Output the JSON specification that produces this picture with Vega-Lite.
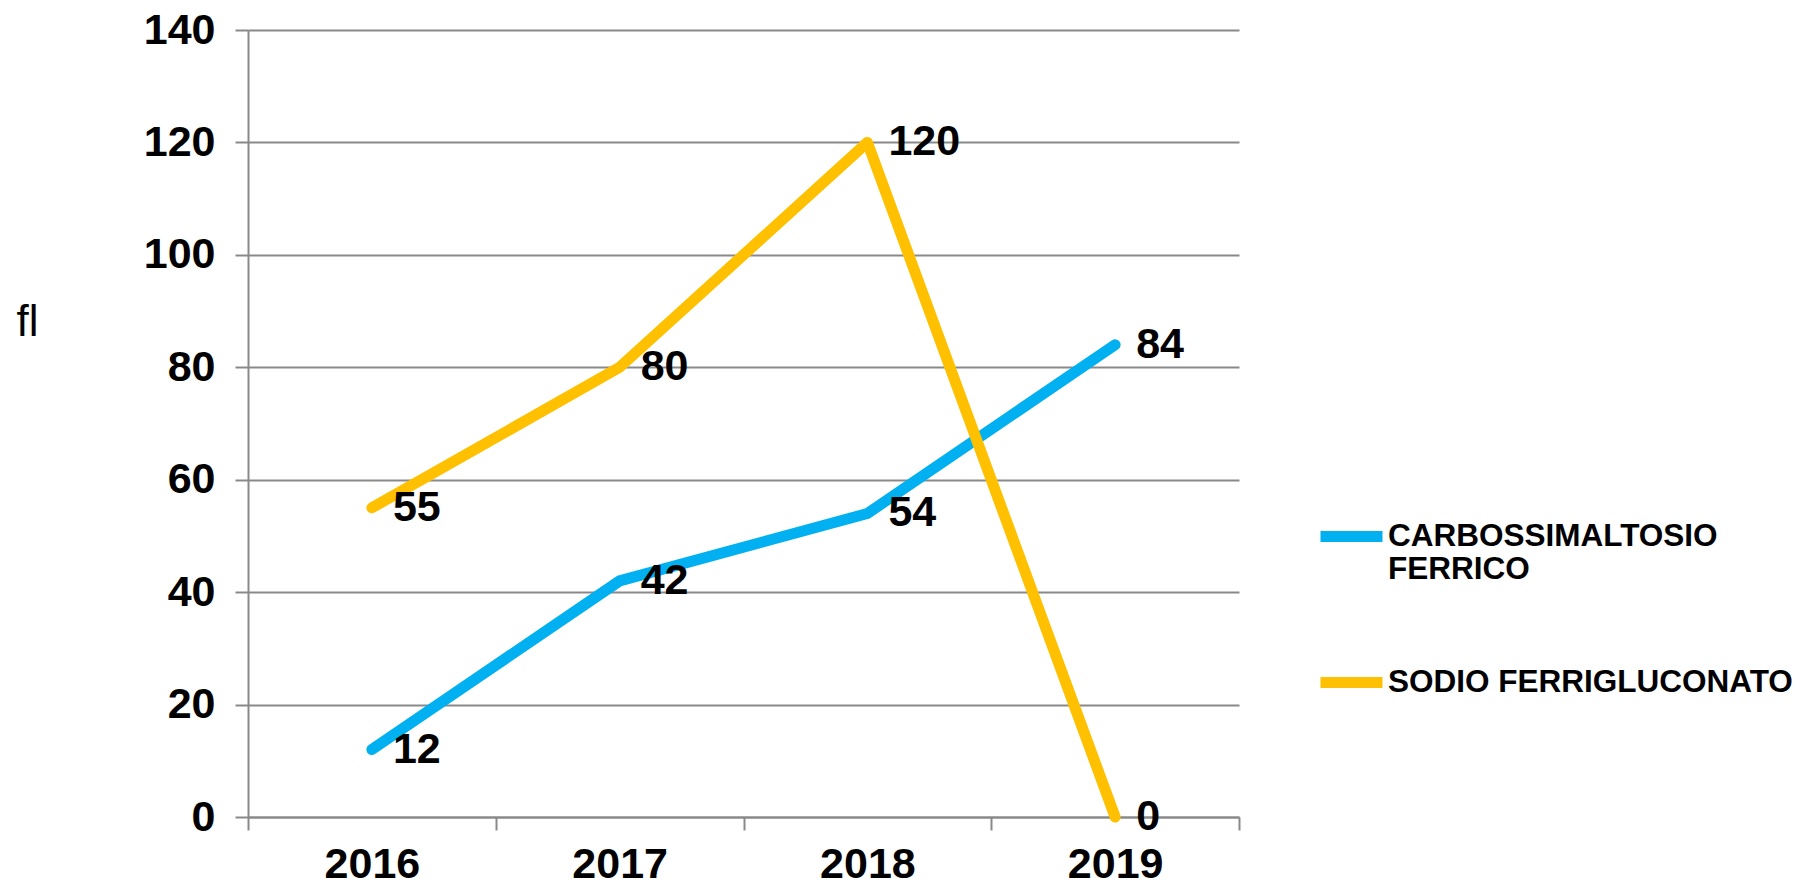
{
  "$schema": "https://vega.github.io/schema/vega-lite/v6.json",
  "width": 991,
  "height": 787,
  "autosize": {"type": "none"},
  "padding": {"left": 248, "top": 30, "right": 563, "bottom": 68},
  "background": "white",
  "config": {
    "font": "Liberation Sans",
    "view": {"stroke": null},
    "axis": {"labelFont": "Liberation Sans", "labelFontWeight": "bold", "labelColor": "black", "domainColor": "#898989", "tickColor": "#898989", "gridColor": "#898989", "domainWidth": 2, "tickWidth": 2, "gridWidth": 2, "tickSize": 13}
  },
  "data": {
    "values": [
      {"year": "2016", "series": "CARBOSSIMALTOSIO FERRICO", "value": 12},
      {"year": "2017", "series": "CARBOSSIMALTOSIO FERRICO", "value": 42},
      {"year": "2018", "series": "CARBOSSIMALTOSIO FERRICO", "value": 54},
      {"year": "2019", "series": "CARBOSSIMALTOSIO FERRICO", "value": 84},
      {"year": "2016", "series": "SODIO FERRIGLUCONATO", "value": 55},
      {"year": "2017", "series": "SODIO FERRIGLUCONATO", "value": 80},
      {"year": "2018", "series": "SODIO FERRIGLUCONATO", "value": 120},
      {"year": "2019", "series": "SODIO FERRIGLUCONATO", "value": 0}
    ]
  },
  "encoding": {
    "x": {
      "field": "year", "type": "nominal", "bandPosition": 0.5,
      "scale": {"type": "band", "paddingInner": 0, "paddingOuter": 0},
      "axis": {"title": null, "labelAngle": 0, "labelFontSize": 43, "labelPadding": 13, "tickBand": "extent", "grid": false}
    },
    "y": {
      "field": "value", "type": "quantitative",
      "scale": {"domain": [0, 140], "nice": false},
      "axis": {"values": [0, 20, 40, 60, 80, 100, 120, 140], "grid": true, "labelFontSize": 43, "labelPadding": 20, "title": "fl", "titleAngle": 0, "titleFont": "Liberation Sans", "titleFontWeight": "normal", "titleFontSize": 44, "titleColor": "black", "titleX": -221, "titleY": 305, "titleAlign": "center", "titleBaseline": "alphabetic"}
    }
  },
  "layer": [
    {
      "mark": {"type": "line", "strokeWidth": 11, "strokeCap": "round", "strokeJoin": "round"},
      "encoding": {
        "color": {
          "field": "series", "type": "nominal",
          "scale": {"domain": ["CARBOSSIMALTOSIO FERRICO", "SODIO FERRIGLUCONATO"], "range": ["#00B0F0", "#FFC000"]},
          "legend": {
            "title": null, "orient": "none", "legendX": 1067, "legendY": 470,
            "symbolType": "stroke", "symbolSize": 3844, "symbolStrokeWidth": 11,
            "labelFontSize": 31.5, "labelFontWeight": "bold", "labelColor": "black", "labelOffset": 0, "labelLimit": 600,
            "rowPadding": 60,
            "labelExpr": "datum.label == 'CARBOSSIMALTOSIO FERRICO' ? [' CARBOSSIMALTOSIO', 'FERRICO'] : datum.label"
          }
        }
      }
    },
    {
      "mark": {"type": "text", "align": "left", "baseline": "middle", "dx": 21, "fontSize": 43, "fontWeight": "bold", "color": "black"},
      "encoding": {"text": {"field": "value", "type": "quantitative"}}
    }
  ]
}
